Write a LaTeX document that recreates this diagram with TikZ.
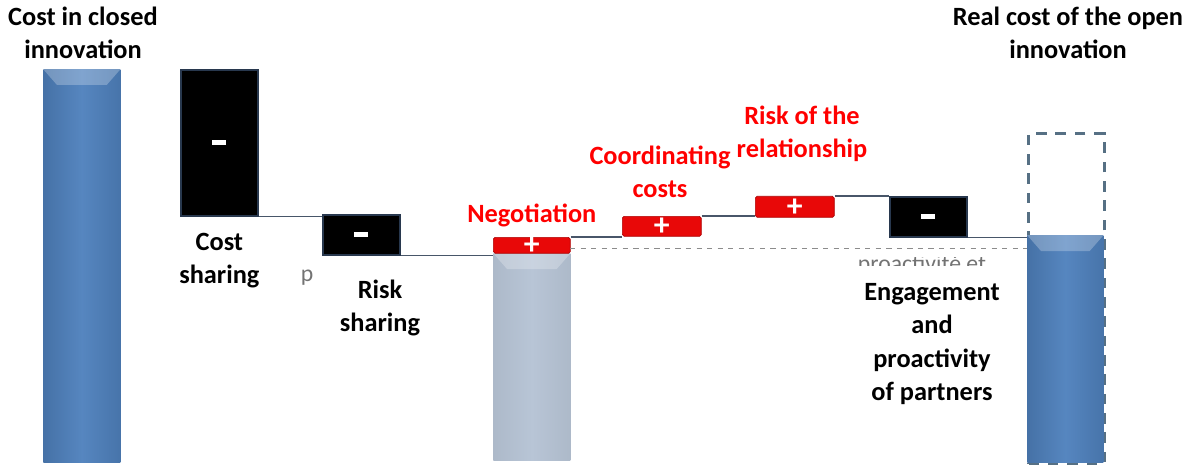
\documentclass[tikz,border=0pt]{standalone}
\usepackage{fontspec}
\setmainfont{Carlito}
\usepackage{xcolor}
\usepackage{tikz}
\usetikzlibrary{positioning}
\definecolor{barblue}{RGB}{79,129,189}
\definecolor{barpale}{RGB}{184,197,214}
\definecolor{plusred}{RGB}{232,8,8}
\definecolor{edgenavy}{RGB}{40,56,78}
\definecolor{dashgrey}{RGB}{86,112,132}
\tikzset{
  box/.style={rectangle, inner sep=0pt, anchor=north west, minimum width=1.54cm},
  minusbox/.style={box, fill=black, draw=edgenavy, line width=1pt},
  plusbox/.style={box, fill=plusred, draw=plusred!75!black, rounded corners=1pt, minimum width=1.58cm},
  minussign/.style={rectangle, fill=white, inner sep=0pt, minimum width=0.28cm, minimum height=0.1cm},
  plussign/.style={text=white, font=\bfseries\fontsize{18}{18}\selectfont, inner sep=0pt},
  bar/.style={box, left color=barblue!88!black, right color=barblue!90!black, middle color=barblue!96!white},
  palebar/.style={box, left color=barpale!94!black, right color=barpale!94!black, middle color=barpale},
  lbl/.style={align=center, inner sep=0pt, font=\bfseries\fontsize{15}{19}\selectfont},
  redlbl/.style={lbl, text=red},
  link/.style={draw=edgenavy!85, line width=0.6pt},
  baseline/.style={draw=black!45, dashed, line width=0.5pt},
  openline/.style={draw=dashgrey, line width=1.8pt, dash pattern=on 6pt off 5pt},
  fragment/.style={text=black!55, inner sep=0pt, font=\fontsize{13.5}{13.5}\selectfont},
}

\begin{document}
\begin{tikzpicture}[x=0.02cm, y=-0.02cm]
    \useasboundingbox (0,0) rectangle (1201,466);
    % bars
    \node[box, openline, minimum width=1.52cm, minimum height=6.6cm] (ghost) at (1027,132) {};
    \node[bar, minimum height=7.86cm] (closed) at (43,69) {};
    \node[palebar, minimum height=4.14cm] (pale) at (493,253) {};
    \node[bar, minimum width=1.52cm, minimum height=4.54cm] (open) at (1027,235) {};
    \foreach \b in {closed, pale, open}
      \fill[white, opacity=.25] (\b.north west) -- (\b.north east)
        -- ([shift={(-14,16)}]\b.north east) -- ([shift={(14,16)}]\b.north west) -- cycle;

    % steps
    \node[minusbox, minimum height=2.92cm] (cs) at (180,69) {};
    \node[minusbox, minimum height=0.8cm] (rs) at (322,214) {};
    \node[plusbox, minimum width=1.54cm, minimum height=0.32cm] (neg) at (493,237) {};
    \node[plusbox, minimum height=0.4cm] (coord) at (622,216) {};
    \node[plusbox, minimum height=0.42cm] (rel) at (755,196) {};
    \node[minusbox, minimum height=0.8cm] (eng) at (889,196) {};
    \foreach \b in {cs, rs, eng}
      \node[minussign] (\b-s) at (\b.center) {};
    \foreach \b in {neg, coord, rel}
      \node[plussign] (\b-s) at ([yshift=-0.5pt]\b.center) {+};

    % links
    \draw[link] (cs.south east) -- (cs.south east -| rs.west);
    \draw[link] (rs.south east) -- (rs.south east -| neg.west);
    \draw[link] (neg.north east) -- (neg.north east -| coord.west);
    \draw[link] (coord.north east) -- (coord.north east -| rel.west);
    \draw[link] (rel.north east) -- (rel.north east -| eng.west);
    \draw[link] (eng.south east) -- (eng.south east -| open.west);
    \coordinate (dashL) at (570,248);
    \draw[baseline] (dashL) -- (dashL -| open.west);

    % labels
    \node[lbl] (closedT) at (83,33) {Cost in closed\\innovation};
    \node[lbl] (openT) at (1068,33) {Real cost of the open\\innovation};
    \node[lbl, below=0.32cm of cs] (csT) {Cost\\sharing};
    \node[lbl] (rsT) at (380,308) {Risk\\sharing};
    \node[redlbl, above=0.2cm of neg] (negT) {Negotiation};
    \node[redlbl] (coordT) at (660,172) {Coordinating\\costs};
    \node[redlbl] (relT) at (802,134) {Risk of the\\relationship};
    \node[lbl] (engT) at (932,344) {Engagement\\and\\proactivity\\of partners};

    % leftover fragments
    \node[fragment] (frag1) at (307,278) {p};
    \begin{scope}
      \clip (850,257) rectangle (990,265);
      \node[fragment, anchor=base] (frag2) at (922,271) {proactivité et};
    \end{scope}
  \end{tikzpicture}
\end{document}
